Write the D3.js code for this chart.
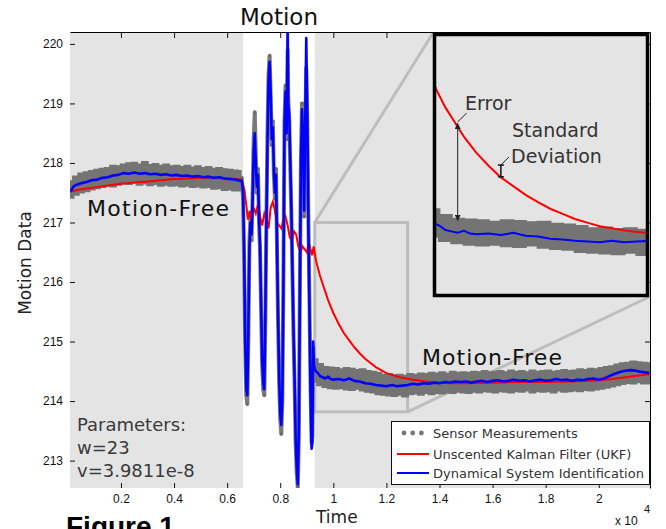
<!DOCTYPE html>
<html>
<head>
<meta charset="utf-8">
<script src="https://cdn.jsdelivr.net/npm/d3@7"></script>
<style>
  body { margin: 0; background: #fff; }
  text { font-family: "DejaVu Sans", Verdana, sans-serif; }
  .tick text { font-family: "Liberation Sans", Arial, sans-serif; font-size: 12px; fill: #111; }
</style>
</head>
<body>
<div class="canvas"></div>
<script>
// tick labels
const xTicks = [0.2, 0.4, 0.6, 0.8, 1, 1.2, 1.4, 1.6, 1.8, 2];
const yTicks = [213, 214, 215, 216, 217, 218, 219, 220];

// time window with motion, and the zoomed box [t0, t1, v0, v1]
const motionWindow = [0.66, 0.93];
const zoomBox = [0.93, 1.28, 213.82, 217.0];
const insetX = [0.93, 1.28];
const insetY = [213.5, 217.12];

// sensor measurements (x 10^4 time, regular sampling in the calm parts;
// calm samples alternate between the upper and lower side of the scatter)
const sensorStepCalm = 0.01;
const sensorStartA = 0.01;
const sensorValuesA = [
  217.69,217.42,217.77,217.47,217.82,217.51,217.84,217.53,217.86,217.56,
  217.88,217.58,217.90,217.60,217.91,217.62,217.95,217.61,217.94,217.64,
  217.97,217.66,217.99,217.65,218.00,217.67,217.97,217.64,218.01,217.66,
  217.96,217.63,217.98,217.65,217.95,217.62,217.97,217.64,217.94,217.62,
  217.95,217.63,217.93,217.61,217.95,217.62,217.92,217.60,217.94,217.61,
  217.91,217.59,217.93,217.60,217.90,217.57,217.91,217.58,217.89,217.55,
  217.88,217.56,217.87,217.54,217.86
];
const sensorMotion = [
  [0.655,217.75],[0.660,217.4],[0.664,216.4],[0.668,215.0],[0.672,214.1],[0.676,213.95],
  [0.680,215.1],[0.684,216.7],[0.688,217.1],[0.692,216.7],[0.696,217.5],[0.700,218.4],
  [0.704,218.85],[0.708,218.1],[0.712,217.5],[0.716,217.9],[0.720,217.0],[0.724,216.5],
  [0.728,215.5],[0.732,214.6],[0.736,214.2],[0.740,214.1],[0.744,215.4],[0.748,217.1],
  [0.752,218.5],[0.756,219.5],[0.760,219.8],[0.764,219.1],[0.768,218.3],[0.772,218.7],
  [0.776,217.8],[0.780,217.4],[0.784,217.9],[0.788,216.5],[0.792,215.3],[0.796,214.3],
  [0.800,213.7],[0.804,213.45],[0.808,214.0],[0.812,216.1],[0.816,218.7],[0.820,219.3],
  [0.824,218.4],[0.828,219.9],[0.830,219.1],[0.834,218.7],[0.838,217.9],[0.842,217.1],
  [0.846,216.1],[0.850,215.1],[0.854,214.3],[0.858,213.3],[0.862,212.8],[0.866,212.55],
  [0.870,213.4],[0.874,215.9],[0.878,218.1],[0.882,219.0],[0.886,218.3],[0.890,217.1],
  [0.894,218.5],[0.898,219.6],[0.902,218.7],[0.906,217.1],[0.910,215.7],[0.914,214.3],
  [0.918,213.3],[0.921,213.4],[0.924,214.9],[0.927,214.6]
];
const sensorStartB = 0.93;
const sensorValuesB = [
  214.70,214.33,214.62,214.27,214.57,214.24,214.56,214.22,214.55,214.21,
  214.53,214.22,214.55,214.20,214.54,214.19,214.52,214.21,214.53,214.18,
  214.50,214.16,214.49,214.15,214.47,214.12,214.44,214.11,214.45,214.10,
  214.43,214.09,214.44,214.11,214.42,214.08,214.45,214.12,214.44,214.13,
  214.46,214.11,214.45,214.14,214.47,214.12,214.46,214.14,214.48,214.13,
  214.46,214.15,214.49,214.14,214.47,214.16,214.48,214.15,214.47,214.14,
  214.49,214.16,214.48,214.15,214.50,214.17,214.48,214.16,214.49,214.15,
  214.50,214.17,214.48,214.16,214.51,214.15,214.49,214.17,214.50,214.16,
  214.48,214.18,214.51,214.15,214.49,214.17,214.50,214.16,214.51,214.17,
  214.49,214.15,214.50,214.18,214.52,214.16,214.50,214.17,214.51,214.18,
  214.53,214.17,214.52,214.19,214.54,214.18,214.53,214.20,214.55,214.21,
  214.57,214.23,214.58,214.25,214.61,214.27,214.63,214.29,214.64,214.31,
  214.66,214.30,214.65,214.32,214.64,214.30,214.63
];

// unscented kalman filter estimate
const ukfPoints = [
  [0.01,217.52],[0.05,217.56],[0.10,217.59],[0.15,217.62],[0.20,217.65],[0.25,217.67],
  [0.30,217.69],[0.35,217.71],[0.40,217.73],[0.45,217.74],[0.50,217.75],[0.55,217.75],
  [0.60,217.74],[0.64,217.73],[0.655,217.72],
  [0.665,217.55],[0.672,217.3],[0.678,217.05],[0.685,217.2],[0.692,217.0],[0.700,217.25],
  [0.708,217.15],[0.716,217.3],[0.724,217.1],[0.732,216.95],[0.740,217.15],[0.748,217.05],
  [0.756,216.9],[0.764,217.25],[0.772,217.35],[0.780,217.2],[0.788,217.0],[0.796,216.95],
  [0.804,216.9],[0.812,217.05],[0.820,217.1],[0.828,216.95],[0.836,216.75],[0.844,216.7],
  [0.852,216.85],[0.860,216.8],[0.868,216.6],[0.876,216.5],[0.884,216.6],[0.892,216.55],
  [0.900,216.5],[0.908,216.65],[0.914,216.55],[0.920,216.45],[0.926,216.6],
  [0.935,216.35],[0.95,216.1],[0.965,215.9],[0.98,215.7],[1.00,215.48],[1.02,215.3],
  [1.04,215.14],[1.06,215.02],[1.08,214.9],[1.10,214.8],[1.12,214.71],[1.14,214.64],
  [1.16,214.57],[1.18,214.52],[1.20,214.47],[1.25,214.4],[1.30,214.36],[1.35,214.33],
  [1.40,214.31],[1.45,214.30],[1.50,214.30],[1.60,214.31],[1.70,214.32],[1.80,214.32],
  [1.90,214.33],[2.00,214.35],[2.05,214.37],[2.10,214.40],[2.15,214.43],[2.19,214.45]
];

// dynamical system identification estimate
const dsiPoints = [
  [0.01,217.52],[0.02,217.60],[0.03,217.63],[0.05,217.66],[0.07,217.68],[0.09,217.71],
  [0.11,217.72],[0.13,217.75],[0.15,217.76],[0.17,217.79],[0.19,217.80],[0.21,217.83],
  [0.23,217.82],[0.25,217.84],[0.27,217.82],[0.29,217.83],[0.31,217.81],[0.33,217.82],
  [0.35,217.80],[0.37,217.81],[0.39,217.79],[0.41,217.80],[0.43,217.78],[0.45,217.79],
  [0.47,217.77],[0.49,217.78],[0.51,217.76],[0.53,217.77],[0.55,217.75],[0.57,217.76],
  [0.59,217.74],[0.61,217.73],[0.63,217.72],[0.65,217.70],
  [0.655,217.70],[0.660,217.5],[0.664,216.5],[0.668,215.0],[0.672,214.2],[0.676,214.1],
  [0.680,215.2],[0.684,216.6],[0.688,217.0],[0.692,216.8],[0.696,217.4],[0.700,218.2],
  [0.704,218.5],[0.708,218.0],[0.712,217.6],[0.716,217.8],[0.720,217.1],[0.724,216.6],
  [0.728,215.6],[0.732,214.7],[0.736,214.3],[0.740,214.2],[0.744,215.5],[0.748,217.0],
  [0.752,218.4],[0.756,219.4],[0.760,219.7],[0.764,219.2],[0.768,218.4],[0.772,218.6],
  [0.776,217.9],[0.780,217.5],[0.784,217.8],[0.788,216.6],[0.792,215.4],[0.796,214.4],
  [0.800,213.8],[0.804,213.6],[0.808,214.1],[0.812,216.0],[0.816,218.6],[0.820,219.2],
  [0.824,218.5],[0.828,220.4],[0.830,219.0],[0.834,218.8],[0.838,218.0],[0.842,217.2],
  [0.846,216.2],[0.850,215.2],[0.854,214.4],[0.858,213.4],[0.862,212.9],[0.866,212.6],
  [0.870,213.5],[0.874,215.8],[0.878,218.0],[0.882,218.9],[0.886,218.4],[0.890,217.2],
  [0.894,218.6],[0.898,220.1],[0.902,218.8],[0.906,217.0],[0.910,215.6],[0.914,214.2],
  [0.918,213.2],[0.921,213.3],[0.924,215.0],[0.927,214.6],[0.930,214.55],
  [0.934,214.5],[0.94,214.48],[0.95,214.42],[0.96,214.40],[0.97,214.38],[0.98,214.41],
  [0.99,214.37],[1.00,214.36],[1.02,214.37],[1.04,214.35],[1.06,214.38],[1.08,214.34],
  [1.10,214.33],[1.12,214.30],[1.14,214.29],[1.16,214.27],[1.18,214.26],[1.20,214.25],
  [1.22,214.27],[1.24,214.25],[1.26,214.26],[1.28,214.27],[1.30,214.29],[1.32,214.28],
  [1.34,214.30],[1.36,214.29],[1.38,214.31],[1.40,214.30],[1.42,214.32],[1.44,214.31],
  [1.46,214.33],[1.48,214.32],[1.50,214.33],[1.52,214.31],[1.54,214.33],[1.56,214.34],
  [1.58,214.32],[1.60,214.34],[1.62,214.35],[1.64,214.33],[1.66,214.34],[1.68,214.36],
  [1.70,214.34],[1.72,214.35],[1.74,214.33],[1.76,214.35],[1.78,214.36],[1.80,214.34],
  [1.82,214.35],[1.84,214.37],[1.86,214.35],[1.88,214.36],[1.90,214.34],[1.92,214.36],
  [1.94,214.35],[1.96,214.37],[1.98,214.38],[2.00,214.36],[2.02,214.38],[2.04,214.42],
  [2.06,214.46],[2.08,214.49],[2.10,214.51],[2.12,214.52],[2.14,214.51],[2.16,214.49],
  [2.18,214.48],[2.19,214.47]
];

// inset annotation anchors (time, value)
const errorMark = {t: 0.97, top: 215.9, bottom: 214.53};
const stdMark = {t: 1.04, top: 215.31, bottom: 215.15};

const legendItems = ['Sensor Measurements', 'Unscented Kalman Filter (UKF)', 'Dynamical System Identification'];

// calm scatter as a band: each upper sample paired with the lower one after it
const toBand = (values, start) => {
  const band = [];
  for (let i = 0; i < values.length; i += 2) {
    const lo = values[i + 1] !== undefined ? values[i + 1] : values[i - 1];
    band.push({t: start + i * sensorStepCalm, hi: values[i], lo: lo});
  }
  return band;
};
const bandA = toBand(sensorValuesA, sensorStartA);
const bandB = toBand(sensorValuesB, sensorStartB);
const motionTrace = [
  [sensorStartA + (sensorValuesA.length - 1) * sensorStepCalm, 217.72],
  ...sensorMotion,
  [sensorStartB, 214.5]
];

const svg = d3.select('.canvas')
  .append('svg')
    .attr('width', 666)
    .attr('height', 529);

const plot = {left: 70, right: 650, top: 32, bottom: 488};

const x = d3.scaleLinear().domain([0.008, 2.193]).range([plot.left, plot.right]);
const y = d3.scaleLinear().domain([212.54, 220.2]).range([plot.bottom, plot.top]);

const defs = svg.append('defs');
defs.append('clipPath').attr('id', 'plotClip')
  .append('rect')
    .attr('x', plot.left).attr('y', plot.top)
    .attr('width', plot.right - plot.left).attr('height', plot.bottom - plot.top);

defs.append('marker')
    .attr('id', 'arrowHead')
    .attr('viewBox', '0 0 8 8')
    .attr('refX', 8).attr('refY', 4)
    .attr('markerWidth', 6).attr('markerHeight', 6)
    .attr('markerUnits', 'userSpaceOnUse')
    .attr('orient', 'auto-start-reverse')
  .append('path')
    .attr('d', 'M0,0 L8,4 L0,8 z')
    .attr('fill', '#222');

//shaded motion-free parts
const [t0, t1] = x.domain();
svg.selectAll('rect.calm')
  .data([[t0, motionWindow[0]], [motionWindow[1], t1]])
  .enter().append('rect')
    .attr('class', 'calm')
    .attr('x', d => x(d[0]))
    .attr('y', plot.top)
    .attr('width', d => x(d[1]) - x(d[0]))
    .attr('height', plot.bottom - plot.top)
    .attr('fill', '#e4e4e4');

// inset geometry
const inset = {left: 433, top: 33, right: 649, bottom: 297};
const ix = d3.scaleLinear().domain(insetX).range([inset.left, inset.right]);
const iy = d3.scaleLinear().domain(insetY).range([inset.bottom, inset.top]);

//zoom box and connectors
svg.append('rect')
  .attr('x', x(zoomBox[0]))
  .attr('y', y(zoomBox[3]))
  .attr('width', x(zoomBox[1]) - x(zoomBox[0]))
  .attr('height', y(zoomBox[2]) - y(zoomBox[3]))
  .attr('fill', 'none')
  .attr('stroke', '#bdbdbd')
  .attr('stroke-width', 3);

svg.selectAll('line.connector')
  .data([
    [x(zoomBox[0]), y(zoomBox[3]), inset.left, inset.top],
    [x(zoomBox[1]), y(zoomBox[2]), inset.right, inset.bottom]
  ])
  .enter().append('line')
    .attr('class', 'connector')
    .attr('x1', d => d[0]).attr('y1', d => d[1])
    .attr('x2', d => d[2]).attr('y2', d => d[3])
    .attr('stroke', '#bdbdbd')
    .attr('stroke-width', 3);

const drawSeries = (g, sx, sy, blueWidth) => {
  const line = d3.line().x(d => sx(d[0])).y(d => sy(d[1]));
  const band = d3.area()
    .x(d => sx(d.t))
    .y0(d => sy(d.lo))
    .y1(d => sy(d.hi))
    .curve(d3.curveStep);

  g.selectAll('path.band')
    .data([bandA, bandB])
    .enter().append('path')
      .attr('class', 'band')
      .attr('d', band)
      .attr('fill', '#747474')
      .attr('stroke', '#747474')
      .attr('stroke-width', 2.5);
  g.append('path')
    .attr('d', line(motionTrace))
    .attr('fill', 'none')
    .attr('stroke', '#7a7a7a')
    .attr('stroke-width', 4)
    .attr('stroke-linejoin', 'round');
  g.selectAll('circle.sensor')
    .data(sensorMotion)
    .enter().append('circle')
      .attr('class', 'sensor')
      .attr('cx', d => sx(d[0]))
      .attr('cy', d => sy(d[1]))
      .attr('r', 1.6)
      .attr('fill', '#6a6a6a');
  g.append('path')
    .attr('d', line(ukfPoints))
    .attr('fill', 'none')
    .attr('stroke', '#ff0000')
    .attr('stroke-width', 2);
  g.append('path')
    .attr('d', line(dsiPoints))
    .attr('fill', 'none')
    .attr('stroke', '#0000ff')
    .attr('stroke-width', blueWidth)
    .attr('stroke-linejoin', 'round');
};

const dataGroup = svg.append('g').attr('clip-path', 'url(#plotClip)');
drawSeries(dataGroup, x, y, 2.6);

//axes: ticks point inward, only top and right get a line
const bottomAxis = d3.axisBottom(x).tickValues(xTicks).tickSizeInner(-5).tickSizeOuter(0).tickPadding(6)
  .tickFormat(d => d);
const leftAxis = d3.axisLeft(y).tickValues(yTicks).tickSizeInner(-5).tickSizeOuter(0).tickPadding(7);
const topAxis = d3.axisTop(x).tickValues(xTicks).tickSizeInner(-6).tickSizeOuter(0).tickFormat('');
const rightAxis = d3.axisRight(y).tickValues(yTicks).tickSizeInner(-5).tickSizeOuter(0).tickFormat('');

svg.append('g').attr('transform', `translate(0, ${plot.bottom})`).call(bottomAxis)
  .call(g => g.select('.domain').remove());
svg.append('g').attr('transform', `translate(${plot.left}, 0)`).call(leftAxis)
  .call(g => g.select('.domain').remove());
svg.append('g').attr('transform', `translate(0, ${plot.top})`).call(topAxis);
svg.append('g').attr('transform', `translate(${plot.right}, 0)`).call(rightAxis);

svg.selectAll('.tick line').attr('stroke', '#111');

//labels inside the plot
svg.append('text').attr('x', 279).attr('y', 25)
  .attr('text-anchor', 'middle').attr('font-size', 23).attr('fill', '#111')
  .text('Motion');

svg.append('text').attr('x', 87).attr('y', 216)
  .attr('font-size', 22).attr('textLength', 142).attr('fill', '#111')
  .text('Motion-Free');
svg.append('text').attr('x', 422).attr('y', 365)
  .attr('font-size', 22).attr('textLength', 140).attr('fill', '#111')
  .text('Motion-Free');

svg.selectAll('text.param')
  .data(['Parameters:', 'w=23', 'v=3.9811e-8'])
  .enter().append('text')
    .attr('class', 'param')
    .attr('x', 77)
    .attr('y', (d, i) => 431 + i * 22.8)
    .attr('font-size', 18)
    .attr('fill', '#3a3a3a')
    .text(d => d);

//axis titles
svg.append('text')
  .attr('transform', 'translate(31, 263) rotate(-90)')
  .attr('text-anchor', 'middle').attr('font-size', 17).attr('fill', '#222')
  .text('Motion Data');
svg.append('text').attr('x', 316).attr('y', 523)
  .attr('font-size', 17).attr('fill', '#222')
  .text('Time');
svg.append('text').attr('x', 615).attr('y', 525)
  .style('font-family', '"Liberation Sans", Arial, sans-serif')
  .attr('font-size', 12).attr('fill', '#111')
  .text('x 10');
svg.append('text').attr('x', 644).attr('y', 513)
  .style('font-family', '"Liberation Sans", Arial, sans-serif')
  .attr('font-size', 11).attr('fill', '#111')
  .text('4');

svg.append('text').attr('x', 66).attr('y', 536)
  .style('font-family', '"Liberation Sans", Arial, sans-serif')
  .attr('font-size', 28).attr('font-weight', 'bold').attr('fill', '#000')
  .text('Figure 1');

//legend
const legend = svg.append('g');
legend.append('rect')
  .attr('x', 391.5).attr('y', 421.5)
  .attr('width', 258).attr('height', 63)
  .attr('fill', '#fff').attr('stroke', '#111').attr('stroke-width', 1);

const rowY = [433, 454, 473];
legend.selectAll('text.entry')
  .data(legendItems)
  .enter().append('text')
    .attr('class', 'entry')
    .attr('x', 433)
    .attr('y', (d, i) => rowY[i] + 4.5)
    .attr('font-size', 13)
    .attr('fill', '#333')
    .text(d => d);
legend.selectAll('circle.key')
  .data([404, 412.7, 421.4])
  .enter().append('circle')
    .attr('class', 'key')
    .attr('cx', d => d).attr('cy', rowY[0])
    .attr('r', 2.4).attr('fill', '#777');
legend.selectAll('line.key')
  .data([['#ff0000', rowY[1]], ['#0000ff', rowY[2]]])
  .enter().append('line')
    .attr('class', 'key')
    .attr('x1', 397).attr('x2', 429)
    .attr('y1', d => d[1]).attr('y2', d => d[1])
    .attr('stroke', d => d[0]).attr('stroke-width', 2);

//inset: zoomed view of the same data
defs.append('clipPath').attr('id', 'insetClip')
  .append('rect')
    .attr('x', inset.left + 1.5).attr('y', inset.top + 1.5)
    .attr('width', inset.right - inset.left - 3).attr('height', inset.bottom - inset.top - 3);

svg.append('rect')
  .attr('x', inset.left).attr('y', inset.top)
  .attr('width', inset.right - inset.left).attr('height', inset.bottom - inset.top)
  .attr('fill', '#e4e4e4');

const insetGroup = svg.append('g').attr('clip-path', 'url(#insetClip)');
drawSeries(insetGroup, ix, iy, 2);

// error arrow
insetGroup.append('line')
  .attr('x1', ix(errorMark.t)).attr('x2', ix(errorMark.t))
  .attr('y1', iy(errorMark.top) + 1).attr('y2', iy(errorMark.bottom) - 1)
  .attr('stroke', '#222').attr('stroke-width', 1)
  .attr('marker-start', 'url(#arrowHead)')
  .attr('marker-end', 'url(#arrowHead)');
insetGroup.append('line')
  .attr('x1', ix(errorMark.t)).attr('y1', iy(errorMark.top))
  .attr('x2', ix(errorMark.t) + 9).attr('y2', iy(errorMark.top) - 9)
  .attr('stroke', '#222').attr('stroke-width', 1);

// standard deviation bar
const sx0 = ix(stdMark.t);
insetGroup.append('path')
  .attr('d', `M${sx0},${iy(stdMark.top)}V${iy(stdMark.bottom)}` +
    `M${sx0 - 3},${iy(stdMark.top)}H${sx0 + 3}M${sx0 - 3},${iy(stdMark.bottom)}H${sx0 + 3}`)
  .attr('stroke', '#111').attr('stroke-width', 1.5).attr('fill', 'none');
insetGroup.append('line')
  .attr('x1', sx0).attr('y1', iy(stdMark.top))
  .attr('x2', sx0 + 8).attr('y2', iy(stdMark.top) - 8)
  .attr('stroke', '#222').attr('stroke-width', 1);

insetGroup.append('text').attr('x', 465).attr('y', 110)
  .attr('font-size', 19).attr('fill', '#333').text('Error');
insetGroup.append('text').attr('x', 512).attr('y', 137)
  .attr('font-size', 19).attr('fill', '#333').text('Standard');
insetGroup.append('text').attr('x', 511).attr('y', 163)
  .attr('font-size', 19).attr('fill', '#333').text('Deviation');

svg.append('rect')
  .attr('x', inset.left + 1.5).attr('y', inset.top + 1.5)
  .attr('width', inset.right - inset.left - 3).attr('height', inset.bottom - inset.top - 3)
  .attr('fill', 'none')
  .attr('stroke', '#000')
  .attr('stroke-width', 3.5);
</script>
</body>
</html>
